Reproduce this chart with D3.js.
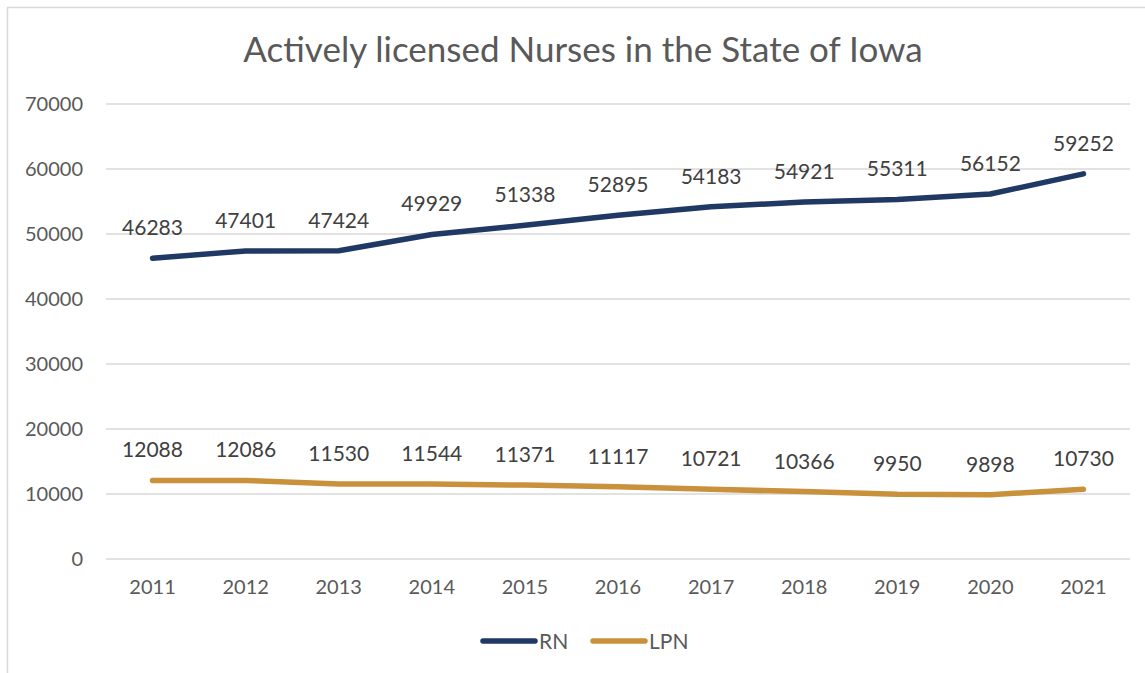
<!doctype html>
<html>
<head>
<meta charset="utf-8">
<script src="https://cdn.jsdelivr.net/npm/d3@7"></script>
<style>
html, body { margin: 0; background: #fff; overflow: hidden; }
text { font-family: Lato, "Open Sans", sans-serif; }
</style>
</head>
<body>
<script>
// values
var years = ["2011", "2012", "2013", "2014", "2015", "2016", "2017", "2018", "2019", "2020", "2021"];
var rn  = [46283, 47401, 47424, 49929, 51338, 52895, 54183, 54921, 55311, 56152, 59252];
var lpn = [12088, 12086, 11530, 11544, 11371, 11117, 10721, 10366, 9950, 9898, 10730];
var yTicks = [0, 10000, 20000, 30000, 40000, 50000, 60000, 70000];

var series = [
    {name: "RN", values: rn, color: "#1F3864"},
    {name: "LPN", values: lpn, color: "#C9913B"}
];

var W = 1145, H = 673;
var svg = d3.select("body").append("svg")
    .attr("width", W)
    .attr("height", H);

// chart frame
svg.append("rect")
    .attr("x", 7.5).attr("y", 7.5)
    .attr("width", W + 10).attr("height", H + 10)
    .attr("fill", "none")
    .attr("stroke", "#d9d9d9")
    .attr("stroke-width", 1.5);

svg.append("text")
    .attr("x", 583).attr("y", 62)
    .attr("text-anchor", "middle")
    .attr("font-size", 35)
    .attr("fill", "#595959")
    .text("Actively licensed Nurses in the State of Iowa");

var x = d3.scaleBand().domain(years).range([106, 1130]);
var y = d3.scaleLinear().domain([0, 70000]).range([559, 104]);

// gridlines
svg.append("g").selectAll("line")
    .data(yTicks)
    .join("line")
    .attr("x1", 106).attr("x2", 1130)
    .attr("y1", d => y(d)).attr("y2", d => y(d))
    .attr("stroke", "#d9d9d9")
    .attr("stroke-width", 1.5);

// y axis labels
var yAxis = svg.append("g")
    .attr("transform", "translate(83,0)")
    .call(d3.axisLeft(y).tickValues(yTicks).tickSize(0).tickPadding(0).tickFormat(d3.format("d")));
yAxis.select(".domain").remove();
yAxis.selectAll("text")
    .attr("font-size", 20)
    .attr("fill", "#595959")
    .style("font-family", "Lato, 'Open Sans', sans-serif");

// x axis labels
var xAxis = svg.append("g")
    .attr("transform", "translate(0,580)")
    .call(d3.axisBottom(x).tickSize(0).tickPadding(0));
xAxis.select(".domain").remove();
xAxis.selectAll("text")
    .attr("font-size", 20)
    .attr("fill", "#595959")
    .style("font-family", "Lato, 'Open Sans', sans-serif");

var cx = d => x(d) + x.bandwidth() / 2;

var line = d3.line()
    .x((d, i) => cx(years[i]))
    .y(d => y(d));

series.forEach(function(s) {
    svg.append("path")
        .datum(s.values)
        .attr("d", line)
        .attr("fill", "none")
        .attr("stroke", s.color)
        .attr("stroke-width", 5.5)
        .attr("stroke-linecap", "round")
        .attr("stroke-linejoin", "round");

    svg.append("g").selectAll("text")
        .data(s.values)
        .join("text")
        .attr("x", (d, i) => cx(years[i]))
        .attr("y", d => y(d) - 23)
        .attr("text-anchor", "middle")
        .attr("font-size", 21)
        .attr("fill", "#404040")
        .text(d => d);
});

// legend
var legend = svg.append("g").selectAll("g")
    .data(series)
    .join("g")
    .attr("transform", (d, i) => "translate(483," + 641 + ") translate(" + (i * 110) + ",0)");
legend.append("line")
    .attr("x1", 0).attr("x2", 52)
    .attr("stroke", d => d.color)
    .attr("stroke-width", 5.5)
    .attr("stroke-linecap", "round");
legend.append("text")
    .attr("x", 56).attr("y", 8)
    .attr("font-size", 21)
    .attr("fill", "#595959")
    .text(d => d.name);
</script>
</body>
</html>
